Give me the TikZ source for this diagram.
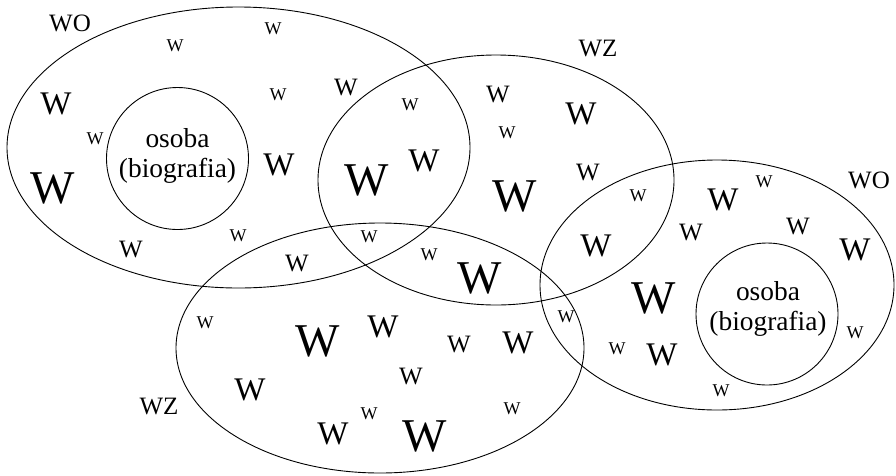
\documentclass[tikz,border=0pt]{standalone}
\usepackage{fontspec}
\setmainfont{Liberation Serif}
\begin{document}
\begin{tikzpicture}[x=1pt,y=-1pt,
  ring/.style={draw=black,line width=0.9pt},
  wa/.style={inner sep=0pt,font=\fontsize{18}{18}\selectfont},
  wb/.style={inner sep=0pt,font=\fontsize{25}{25}\selectfont},
  wc/.style={inner sep=0pt,font=\fontsize{33}{33}\selectfont},
  wd/.style={inner sep=0pt,font=\fontsize{47}{47}\selectfont},
  lab/.style={inner sep=0pt,font=\fontsize{25}{25}\selectfont},
  person/.style={inner sep=0pt,align=center,font=\fontsize{27.4}{29.5}\selectfont}]
\useasboundingbox (0,0) rectangle (896,475);
% sets
\draw[ring] (238.5,147.5) ellipse [x radius=231.5,y radius=140.5];
\draw[ring] (496,180) ellipse [x radius=178,y radius=125];
\draw[ring] (380,348) ellipse [x radius=204,y radius=125];
\draw[ring] (717,285) ellipse [x radius=177,y radius=125];
\draw[ring] (177.5,158.5) circle [radius=71];
\draw[ring] (767,314) circle [radius=71];
\node[person] (p1) at (177.5,156) {osoba\\(biografia)};
\node[person] (p2) at (768,309) {osoba\\(biografia)};
% labels
\node[lab] (l1) at (70,23) {WO};
\node[lab] (l2) at (598,48) {WZ};
\node[lab] (l3) at (869,180) {WO};
\node[lab] (l4) at (159,406) {WZ};
% W marks
\node[wa] (a1) at (175,46) {W};
\node[wa] (a2) at (273,29) {W};
\node[wc] (a3) at (56,104) {W};
\node[wa] (a4) at (95,139) {W};
\node[wd] (a5) at (53,188) {W};
\node[wa] (a6) at (278,95) {W};
\node[wc] (a7) at (279,165) {W};
\node[wb] (a8) at (131,249) {W};
\node[wa] (a9) at (238,236) {W};
\node[wb] (a10) at (346,87) {W};
\node[wa] (a11) at (410,105) {W};
\node[wd] (a12) at (367,180) {W};
\node[wc] (a13) at (424,161) {W};
\node[wb] (a14) at (498,94) {W};
\node[wa] (a15) at (507,133) {W};
\node[wc] (a16) at (581,114) {W};
\node[wb] (a17) at (588,172) {W};
\node[wd] (a18) at (515,196) {W};
\node[wa] (a19) at (369,237) {W};
\node[wb] (a20) at (297,263) {W};
\node[wa] (a21) at (429,255) {W};
\node[wd] (a22) at (480,278) {W};
\node[wa] (a23) at (638,196) {W};
\node[wc] (a24) at (723,200) {W};
\node[wa] (a25) at (764,182) {W};
\node[wb] (a26) at (691,232) {W};
\node[wb] (a27) at (798,226) {W};
\node[wc] (a28) at (855,250) {W};
\node[wc] (a29) at (596,246) {W};
\node[wd] (a30) at (654,298) {W};
\node[wa] (a31) at (566,317) {W};
\node[wa] (a32) at (617,349) {W};
\node[wc] (a33) at (662,355) {W};
\node[wa] (a34) at (855,333) {W};
\node[wa] (a35) at (721,391) {W};
\node[wa] (a36) at (205,323) {W};
\node[wd] (a37) at (318,341) {W};
\node[wc] (a38) at (383,327) {W};
\node[wb] (a39) at (459,344) {W};
\node[wc] (a40) at (518,343) {W};
\node[wb] (a41) at (411,376) {W};
\node[wc] (a42) at (250,390) {W};
\node[wa] (a43) at (369,414) {W};
\node[wc] (a44) at (333,434) {W};
\node[wd] (a45) at (425,436) {W};
\node[wa] (a46) at (512,409) {W};
\end{tikzpicture}
\end{document}
